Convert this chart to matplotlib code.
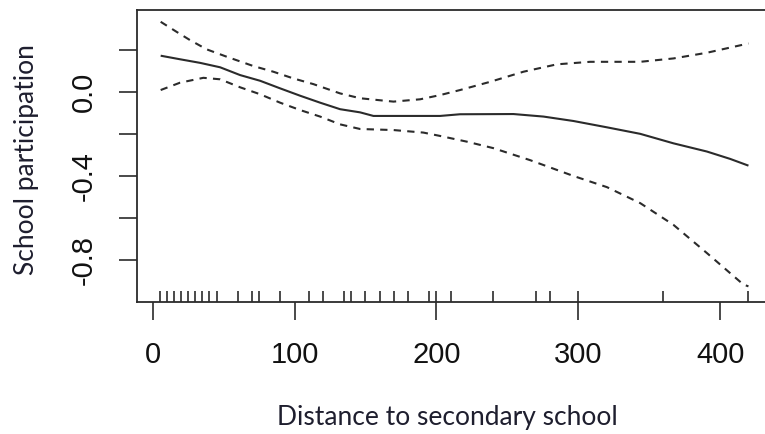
import matplotlib
matplotlib.use("Agg")
import matplotlib.pyplot as plt

# Data
fit_x = [5.6, 19.3, 33.4, 47.5, 61.6, 75.7, 89.8, 103.9, 118.0, 132.1, 146.2, 155.6,
         202.6, 216.7, 254.3, 275.5, 296.6, 320.2, 343.7, 367.1, 390.7, 407.1, 420.0]
fit_y = [0.171, 0.154, 0.137, 0.116, 0.079, 0.052, 0.016, -0.019, -0.052, -0.083, -0.098, -0.115,
         -0.115, -0.107, -0.106, -0.118, -0.139, -0.169, -0.200, -0.245, -0.284, -0.319, -0.351]

upper_x = [5.6, 16.9, 26.3, 38.1, 52.2, 70.9, 85.0, 99.2, 113.3, 132.1, 146.2, 169.7, 188.5,
           202.6, 216.7, 237.9, 261.4, 284.9, 308.4, 343.7, 367.1, 390.7, 420.0]
upper_y = [0.332, 0.284, 0.245, 0.201, 0.166, 0.122, 0.095, 0.063, 0.036, -0.008, -0.031, -0.047, -0.036,
           -0.016, 0.008, 0.047, 0.095, 0.130, 0.142, 0.142, 0.158, 0.185, 0.229]

lower_x = [5.6, 19.3, 35.7, 47.5, 61.6, 75.7, 89.8, 103.9, 118.0, 132.1, 146.2, 169.7, 190.8,
           202.6, 221.4, 240.2, 266.1, 296.6, 320.2, 343.7, 367.1, 390.7, 416.5, 420.0]
lower_y = [0.008, 0.043, 0.066, 0.059, 0.021, -0.012, -0.052, -0.087, -0.118, -0.155, -0.177, -0.182, -0.194,
           -0.210, -0.237, -0.268, -0.325, -0.400, -0.453, -0.529, -0.632, -0.766, -0.916, -0.924]

rug_x = [5, 10, 15, 20, 25, 30, 35, 40, 45, 60, 70, 75, 90, 110, 120, 135, 140, 150, 160,
         170, 180, 195, 200, 210, 240, 270, 280, 300, 360, 420]

x_ticks = [0, 100, 200, 300, 400]
y_ticks = [-0.8, -0.6, -0.4, -0.2, 0.0, 0.2]
y_ticklabels = ["-0.8", "", "-0.4", "", "0.0", ""]

x_title = "Distance to secondary school"
y_title = "School participation"

W, H = 765, 434
fig = plt.figure(figsize=(W / 100, H / 100), dpi=100)
left, right, top, bottom = 136.7, 772.0, 10.0, 301.7
ax = fig.add_axes([left / W, 1 - bottom / H, (right - left) / W, (bottom - top) / H])

line_col = "#2b2b2b"
ax.plot(fit_x, fit_y, color=line_col, lw=1.5, solid_capstyle="butt")
ax.plot(upper_x, upper_y, color=line_col, lw=1.5, dashes=(3.5, 3.0))
ax.plot(lower_x, lower_y, color=line_col, lw=1.5, dashes=(3.5, 3.0))

ax.vlines(rug_x, 0, 0.036, transform=ax.get_xaxis_transform(), color=line_col, lw=1.2)

ax.set_xlim(-11.3, 436.6)
ax.set_ylim(-0.997, 0.388)

ax.set_xticks(x_ticks)
ax.set_xticklabels([str(v) for v in x_ticks])
ax.set_yticks(y_ticks)
ax.set_yticklabels(y_ticklabels)

for s in ["left", "top", "bottom", "right"]:
    ax.spines[s].set_color(line_col)
    ax.spines[s].set_linewidth(1.3)

ax.tick_params(axis="both", direction="out", length=13, width=1.2, color=line_col,
               labelsize=21, pad=15)
ax.tick_params(axis="y", labelrotation=90)
for lab in ax.get_xticklabels() + ax.get_yticklabels():
    lab.set_fontfamily("Liberation Sans")
    lab.set_color("#111111")
for lab in ax.get_yticklabels():
    lab.set_va("center")

fig.text(447.5 / W, 1 - 418 / H, x_title, ha="center", va="center",
         fontsize=19, family="Lato", color="#1e1e2e")
fig.text(27 / W, 1 - 160 / H, y_title, ha="center", va="center", rotation=90,
         fontsize=19, family="Lato", color="#1e1e2e")

fig.savefig("out.png", dpi=100)
